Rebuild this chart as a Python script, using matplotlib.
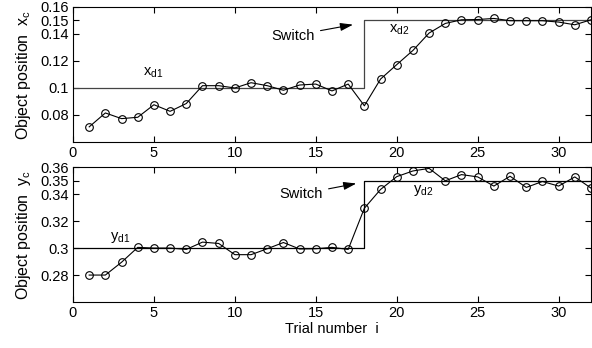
import matplotlib
matplotlib.use("Agg")
import matplotlib.pyplot as plt
import numpy as np

plt.rcParams['font.family'] = ['Liberation Sans', 'DejaVu Sans']
plt.rcParams['mathtext.fontset'] = 'custom'
plt.rcParams['mathtext.rm'] = 'Liberation Sans'
plt.rcParams['mathtext.it'] = 'Liberation Sans'

trials = list(range(1, 33))
x_c = [0.0712, 0.0815, 0.0773, 0.0783, 0.0876, 0.0827, 0.0885, 0.1017, 0.1017, 0.1000,
       0.1039, 0.1017, 0.0983, 0.1022, 0.1029, 0.0978, 0.1029, 0.0868, 0.1066, 0.1173,
       0.1278, 0.1407, 0.1478, 0.1505, 0.1507, 0.1515, 0.1498, 0.1498, 0.1498, 0.1488,
       0.1468, 0.1505]
y_c = [0.2800, 0.2800, 0.2895, 0.3005, 0.3000, 0.3000, 0.2990, 0.3044, 0.3034, 0.2951,
       0.2951, 0.2995, 0.3041, 0.2993, 0.2995, 0.3005, 0.2990, 0.3295, 0.3434, 0.3529,
       0.3571, 0.3590, 0.3498, 0.3544, 0.3527, 0.3459, 0.3532, 0.3449, 0.3493, 0.3459,
       0.3527, 0.3444]
switch_trial = 18
ref_x_vals = [0.10, 0.15]
ref_y_vals = [0.30, 0.35]
x_ticks = [0, 5, 10, 15, 20, 25, 30]
top_yticks = [0.08, 0.1, 0.12, 0.14, 0.15, 0.16]
top_yticklabels = ['0.08', '0.1', '0.12', '0.14', '0.15', '0.16']
bot_yticks = [0.28, 0.3, 0.32, 0.34, 0.35, 0.36]
bot_yticklabels = ['0.28', '0.3', '0.32', '0.34', '0.35', '0.36']

fig = plt.figure(figsize=(5.92, 3.48), dpi=100)
ax1 = fig.add_axes([0.1233, 0.592, 0.875, 0.388])
ax2 = fig.add_axes([0.1233, 0.132, 0.875, 0.388])

fs = 10.5
lfs = 11.5

def setup(ax, yticks, ylabels, ylim):
    ax.set_xlim(0, 32)
    ax.set_ylim(*ylim)
    ax.set_xticks(x_ticks)
    ax.set_yticks(yticks)
    ax.set_yticklabels(ylabels)
    ax.tick_params(direction='in', top=True, right=True, length=4, width=0.8,
                   labelsize=fs, pad=3)
    for s in ax.spines.values():
        s.set_linewidth(0.8)

arrow_kw = dict(arrowstyle='-|>,head_length=0.7,head_width=0.22', color='k', lw=0.8,
                mutation_scale=11, shrinkA=2, shrinkB=0)

# top
ax1.plot([0, switch_trial, switch_trial, 32],
         [ref_x_vals[0], ref_x_vals[0], ref_x_vals[1], ref_x_vals[1]],
         color='#444444', lw=0.9)
ax1.plot(trials, x_c, '-o', color='k', lw=0.8, ms=5.5, mfc='none', mew=0.8)
setup(ax1, top_yticks, top_yticklabels, (0.06, 0.16))
ax1.set_ylabel(r'Object position  $\mathregular{x_c}$', fontsize=lfs, labelpad=5)
ax1.text(4.3, 0.1112, r'$\mathregular{x_{d1}}$', fontsize=fs, va='center')
ax1.text(19.5, 0.1432, r'$\mathregular{x_{d2}}$', fontsize=fs, va='center')
ax1.annotate('Switch', xy=(17.3, 0.1469), xytext=(14.95, 0.1388),
             fontsize=fs, ha='right', va='center', arrowprops=arrow_kw)

# bottom
ax2.plot([0, switch_trial, switch_trial, 32],
         [ref_y_vals[0], ref_y_vals[0], ref_y_vals[1], ref_y_vals[1]],
         color='k', lw=0.9)
ax2.plot(trials, y_c, '-o', color='k', lw=0.8, ms=5.5, mfc='none', mew=0.8)
setup(ax2, bot_yticks, bot_yticklabels, (0.26, 0.36))
ax2.set_ylabel(r'Object position  $\mathregular{y_c}$', fontsize=lfs, labelpad=5)
ax2.set_xlabel('Trial number  i', fontsize=fs, labelpad=1)
ax2.text(2.3, 0.308, r'$\mathregular{y_{d1}}$', fontsize=fs, va='center')
ax2.text(21.0, 0.3424, r'$\mathregular{y_{d2}}$', fontsize=fs, va='center')
ax2.annotate('Switch', xy=(17.5, 0.3478), xytext=(15.45, 0.340),
             fontsize=fs, ha='right', va='center', arrowprops=arrow_kw)

fig.savefig('out.png', dpi=100)
